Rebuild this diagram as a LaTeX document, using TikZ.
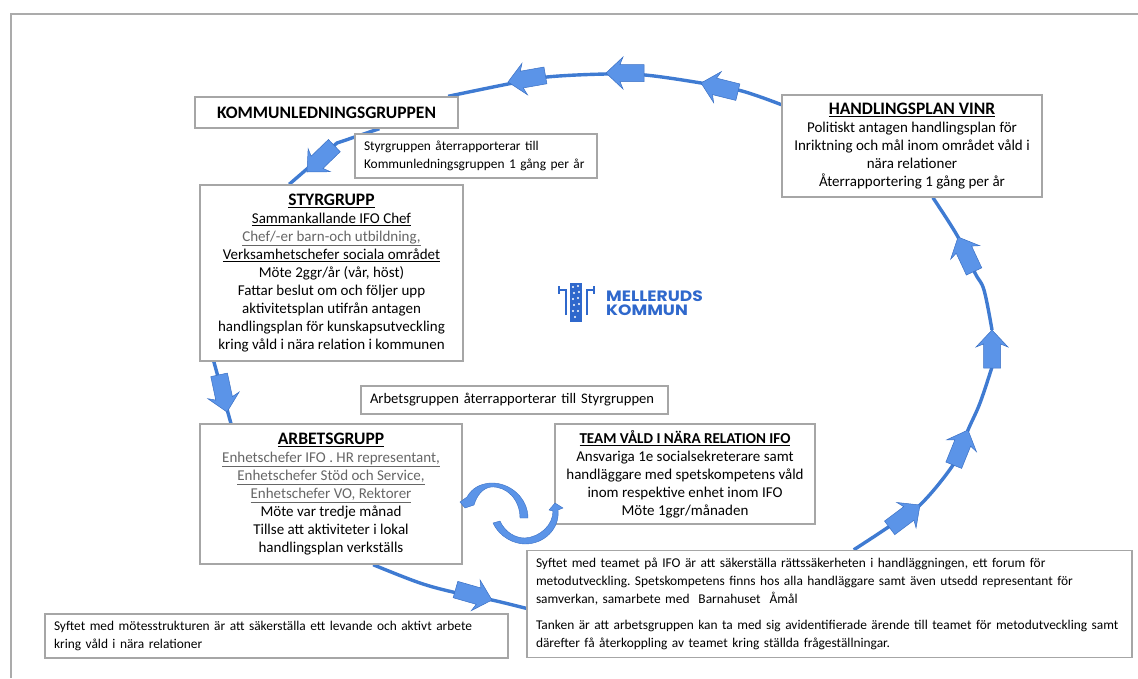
\documentclass[tikz,border=0pt]{standalone}
\usepackage{fontspec}
\setmainfont{Carlito}
\newfontfamily\logofont{Poppins}[FakeStretch=1.14]
\usetikzlibrary{calc,backgrounds}
\definecolor{flowline}{HTML}{3F7BD2}
\definecolor{flowfill}{HTML}{5B94E8}
\definecolor{flowedge}{HTML}{3A70C4}
\definecolor{boxline}{HTML}{A6A6A6}
\definecolor{frameline}{HTML}{ABABAB}
\definecolor{dim}{HTML}{666666}
\definecolor{logoblue}{HTML}{2F68CC}
\newcommand{\blockarrow}[3]{%
  \fill[flowfill,draw=flowedge,line width=0.5pt,shift={(#1,#2)},rotate=#3]
    (0,0) -- (-17,16) -- (-14,8.5) -- (-38,8.5) -- (-38,-8.5) -- (-14,-8.5) -- (-17,-16) -- cycle;}
\newcommand{\bodyfont}{\fontsize{15}{18}\selectfont}
\newcommand{\notefont}{\fontsize{13.4}{17.6}\selectfont}
\newcommand{\titlefont}{\fontsize{17.5}{18}\selectfont\bfseries}
\frenchspacing
\tikzset{
  x=1pt,y=-1pt,
  box/.style={draw=boxline,line width=1.4pt,fill=white,inner sep=0pt,align=center,font=\bodyfont},
  note/.style={box,align=left,font=\notefont,anchor=center,inner xsep=9pt},
  flow/.style={draw=flowline,line width=3.4pt},
}
\begin{document}
\begin{tikzpicture}
\useasboundingbox (0,0) rectangle (1138,678);
\draw[frameline,line width=1.4pt] (11,678) -- (11,14) -- (1138,14);

\node[box,minimum width=263pt,minimum height=31pt,font=\fontsize{17.5}{18}\selectfont\bfseries] (kommun) at (326.5,112.5) {KOMMUNLEDNINGSGRUPPEN};
\node[note,minimum width=242pt,minimum height=44pt,text width=224pt] (noteup) at (476,156)
  {Styrgruppen återrapporterar till\\Kommunledningsgruppen 1 gång per år};
\node[box,minimum width=263pt,minimum height=176pt] (styr) at (331.5,273) {%
  {\titlefont\underline{STYRGRUPP}}\\
  \underline{Sammankallande IFO Chef}\\
  {\color{dim}\underline{Chef/-er barn-och utbildning,}}\\
  \underline{Verksamhetschefer sociala området}\\
  Möte 2ggr/år (vår, höst)\\
  Fattar beslut om och följer upp\\
  aktivitetsplan utifrån antagen\\
  handlingsplan för kunskapsutveckling\\
  kring våld i nära relation i kommunen};
\node[note,minimum width=307pt,minimum height=28pt,text width=289pt,font=\fontsize{14.6}{18}\selectfont] (notemid) at (514.5,400)
  {Arbetsgruppen återrapporterar till Styrgruppen};
\node[box,minimum width=262pt,minimum height=140pt] (arbets) at (331,494) {%
  {\titlefont\underline{ARBETSGRUPP}}\\
  {\color{dim}\underline{Enhetschefer IFO . HR representant,}}\\
  {\color{dim}\underline{Enhetschefer Stöd och Service,}}\\
  {\color{dim}\underline{Enhetschefer VO, Rektorer}}\\
  Möte var tredje månad\\
  Tillse att aktiviteter i lokal\\
  handlingsplan verkställs};
\node[box,minimum width=260pt,minimum height=100pt] (team) at (685,474) {%
  {\fontsize{15.1}{18}\selectfont\bfseries\underline{TEAM VÅLD I NÄRA RELATION IFO}}\\
  Ansvariga 1e socialsekreterare samt\\
  handläggare med spetskompetens våld\\
  inom respektive enhet inom IFO\\
  Möte 1ggr/månaden};
\node[box,minimum width=260pt,minimum height=102pt] (vinr) at (912,146) {%
  {\titlefont\underline{HANDLINGSPLAN VINR}}\\
  Politiskt antagen handlingsplan för\\
  Inriktning och mål inom området våld i\\
  nära relationer\\
  Återrapportering 1 gång per år};
\node[note,minimum width=605pt,minimum height=107pt,text width=587pt] (syftteam) at (829.5,604) {%
  Syftet med teamet på IFO är att säkerställa rättssäkerheten i handläggningen, ett forum för\\
  metodutveckling. Spetskompetens finns hos alla handläggare samt även utsedd representant för\\
  samverkan, samarbete med\ \ Barnahuset\ \ Åmål\\[9pt]
  Tanken är att arbetsgruppen kan ta med sig avidentifierade ärende till teamet för metodutveckling samt\\
  därefter få återkoppling av teamet kring ställda frågeställningar.};
\node[note,minimum width=463pt,minimum height=44pt,text width=445pt] (syftmote) at (276.5,636)
  {Syftet med mötesstrukturen är att säkerställa ett levande och aktivt arbete\\kring våld i nära relationer};

% logo
\node[anchor=west,inner sep=0pt,align=left,text=logoblue,font=\logofont\bfseries\fontsize{15}{14}\selectfont] (logotext) at (606,303) {MELLERUDS\\KOMMUN};
\fill[logoblue] (570,283) rectangle (582,322);
\foreach \px/\py in {573/287,578/286,574/293,579/292,573/299,578/298,574/305,579/304,573/311,578/311,575/317}
  \fill[white] (\px,\py) circle (1.2pt);
\draw[logoblue,line width=1.4pt] (566,315) -- (566,290) -- (559,290) (559,286) -- (559,294)
  (587,315) -- (587,290) -- (594,290) (594,286) -- (594,294);

% connectors behind the boxes
\coordinate (v0) at ($(vinr.north west)!0.1!(vinr.south west)$);
\coordinate (k0) at ($(kommun.north west)!0.96!(kommun.north east)$);
\coordinate (k1) at ($(kommun.south west)!0.7!(kommun.south east)$);
\coordinate (s0) at ($(styr.north west)!0.34!(styr.north east)$);
\coordinate (s1) at ($(styr.south west)!0.055!(styr.south east)$);
\coordinate (a0) at ($(arbets.north west)!0.12!(arbets.north east)$);
\coordinate (a1) at ($(arbets.south west)!0.66!(arbets.south east)$);
\coordinate (t0) at ($(syftteam.north west)!0.54!(syftteam.south west)$);
\coordinate (t1) at ($(syftteam.north west)!0.54!(syftteam.north east)$);
\coordinate (v1) at ($(vinr.south west)!0.58!(vinr.south east)$);
\begin{pgfonlayer}{background}
\draw[flow] plot[smooth,tension=0.6] coordinates {(v0) (742,91) (701,83) (645,75) (606,74) (547,77) (508,84) (k0)};
\draw[flow] (k1) -- (337,143) -- (s0);
\draw[flow] (s1) -- (a0);
\draw[flow] plot[smooth,tension=0.6] coordinates {(a1) (420,583) (457,593) (492,600) (t0)};
\draw[flow] plot[smooth,tension=0.6] coordinates {(t1) (887,528) (920,505) (955,462) (968,430) (980,403) (992,367)};
\draw[flow] plot[smooth,tension=0.6] coordinates {(992,330) (984,290) (975,273) (958,237) (v1)};
\end{pgfonlayer}

% block arrows along the cycle
\blockarrow{701}{83}{166}
\blockarrow{606}{73}{180}
\blockarrow{508}{82}{190}
\blockarrow{307}{172}{224}
\blockarrow{227}{412}{-78}
\blockarrow{492}{600}{-16}
\blockarrow{920}{505}{37}
\blockarrow{968}{430}{68}
\blockarrow{992}{330}{90}
\blockarrow{958}{237}{115}

% curved arrows between Arbetsgrupp and Team
\fill[flowfill,draw=flowedge,line width=0.4pt]
  (528,518) .. controls (528,498) and (510,482) .. (490,483)
  .. controls (480,484) and (472,488) .. (467,497)
  -- (460,502) -- (465,508) -- (474,505)
  .. controls (477,495) and (483,488) .. (491,487)
  .. controls (507,486) and (520,500) .. (520,518) -- cycle;
\fill[flowfill,draw=flowedge,line width=0.4pt]
  (493,523) .. controls (500,538) and (515,544) .. (525,544)
  .. controls (545,544) and (560,528) .. (558,510)
  -- (563,508) -- (555,503) -- (549,510) -- (553,511)
  .. controls (553,525) and (540,537) .. (525,538)
  .. controls (515,538) and (505,532) .. (500,521) -- cycle;
\end{tikzpicture}
\end{document}
